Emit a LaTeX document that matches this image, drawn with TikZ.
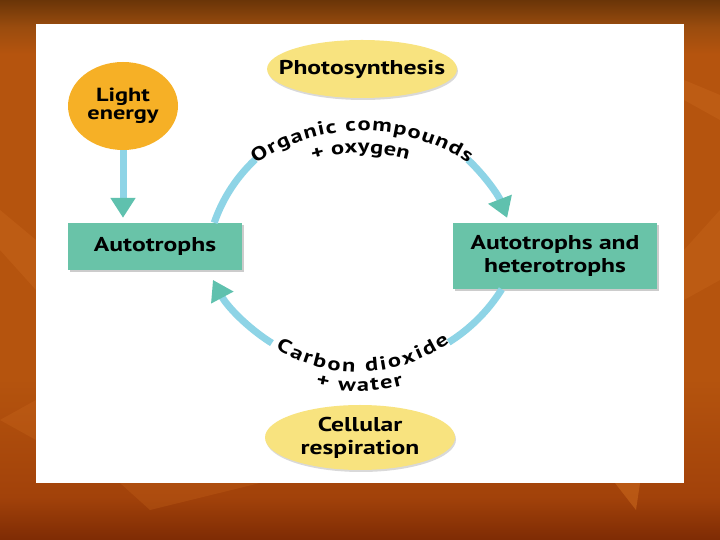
\documentclass[tikz,border=0pt]{standalone}
\usepackage{fontspec}
\setmainfont{PT Sans}[FakeStretch=1.28]
\usetikzlibrary{arrows.meta,shapes.geometric,decorations.text,shadows,calc}

\definecolor{bgtop}{HTML}{6A3508}
\definecolor{bgupper}{HTML}{9A4C0E}
\definecolor{bgmid}{HTML}{B5540E}
\definecolor{bglow}{HTML}{A2420A}
\definecolor{bgbot}{HTML}{7E2B04}
\definecolor{feather}{HTML}{C8661C}
\definecolor{boxteal}{HTML}{69C3A8}
\definecolor{cycblue}{HTML}{8ED4E6}
\definecolor{tipteal}{HTML}{5FC1AE}
\definecolor{sunorange}{HTML}{F6B026}
\definecolor{paleyellow}{HTML}{F8E37F}

\pgfdeclareverticalshading{slidebg}{100bp}{color(0bp)=(bgbot); color(25bp)=(bgbot); color(29bp)=(bglow); color(40bp)=(bgmid); color(70bp)=(bgmid); color(72.5bp)=(bgupper); color(75bp)=(bgtop); color(100bp)=(bgtop)}

\newcommand{\arcfont}{\bfseries\fontsize{19}{22}\selectfont}

\begin{document}
\begin{tikzpicture}[
    x=1pt, y=1pt,
    font=\bfseries\fontsize{20}{23}\selectfont,
    orgbox/.style={rectangle, fill=boxteal, align=center, inner sep=0pt,
        drop shadow={shadow xshift=2pt, shadow yshift=-2pt, fill=black, opacity=0.2}},
    bubble/.style={ellipse, fill=paleyellow, align=center, inner sep=0pt,
        drop shadow={shadow xshift=1pt, shadow yshift=-2pt, fill=black, opacity=0.15}},
    sun/.style={ellipse, fill=sunorange, align=center, inner sep=0pt,
        font=\bfseries\fontsize{19}{18}\selectfont},
    cyc/.style={draw=cycblue, line width=7pt},
    cyctip/.style={cyc, -{Triangle[length=20pt, width=24pt, color=tipteal]}},
    arctext/.style={decorate, decoration={text along path, text align=fit to path, text={#1}}}
]
% slide background
\shade[shading=slidebg] (0,0) rectangle (720,540);
\fill[feather, opacity=0.45] (0,330) -- (36,300) -- (36,250) -- (0,290) -- cycle;
\fill[feather, opacity=0.35] (0,120) -- (36,140) -- (36,100) -- cycle;
\fill[feather, opacity=0.45] (684,460) -- (720,445) -- (720,420) -- (684,440) -- cycle;
\fill[feather, opacity=0.4] (684,290) -- (720,330) -- (720,260) -- (684,240) -- cycle;
\fill[feather, opacity=0.6] (615,57) -- (640,57) -- (636,30) -- cycle;
\fill[feather, opacity=0.3] (120,57) -- (260,57) -- (150,30) -- cycle;
\fill[white] (36,57) rectangle (684,516);

\node[sun, minimum width=110pt, minimum height=88pt] (light) at (123,434) {Light\\energy};
\node[bubble, inner xsep=-16pt, minimum width=189pt, minimum height=58pt] (photo) at (362,471) {Photosynthesis};
\node[orgbox, minimum width=174pt, minimum height=47pt] (auto) at (155,293.5) {Autotrophs};
\node[orgbox, minimum width=204pt, minimum height=66pt] (het) at (555,284) {Autotrophs and\\heterotrophs};
\node[bubble, minimum width=190pt, minimum height=65pt] (resp) at (360,102.5) {Cellular\\respiration};

\draw[cyctip, shorten >=5pt] (light.south) -- (light.south |- auto.north);

% cycle arcs
\coordinate (a1) at ($(auto.north east)+(-28,0)$);
\coordinate (a2) at ($(361.5,266.2)+(47:156)$);
\coordinate (b1) at ($(het.south west)+(49,0)$);
\coordinate (b2) at ($(360.4,338.5)+(-122:167)$);
\draw[cyc] (a1) arc[start angle=161, end angle=133, radius=156];
\draw[cyctip] (a2) arc[start angle=47, end angle=21, radius=156];
\draw[cyc] (b1) arc[start angle=-32, end angle=-58, radius=167];
\draw[cyctip] (b2) arc[start angle=-122, end angle=-152, radius=167];

% labels along the cycle
\path[arctext={|\arcfont|Organic compounds}] ($(362,219)+(124:190)$) arc[start angle=124, end angle=56, radius=190];
\path[arctext={|\arcfont|+ oxygen}] ($(362,219)+(107:168)$) arc[start angle=107, end angle=74, radius=168];
\path[arctext={|\arcfont|Carbon dioxide}] ($(358,324)+(238:156)$) arc[start angle=238, end angle=306, radius=156];
\path[arctext={|\arcfont|+ water}] ($(358,324)+(256:175)$) arc[start angle=256, end angle=285, radius=175];
\end{tikzpicture}
\end{document}
